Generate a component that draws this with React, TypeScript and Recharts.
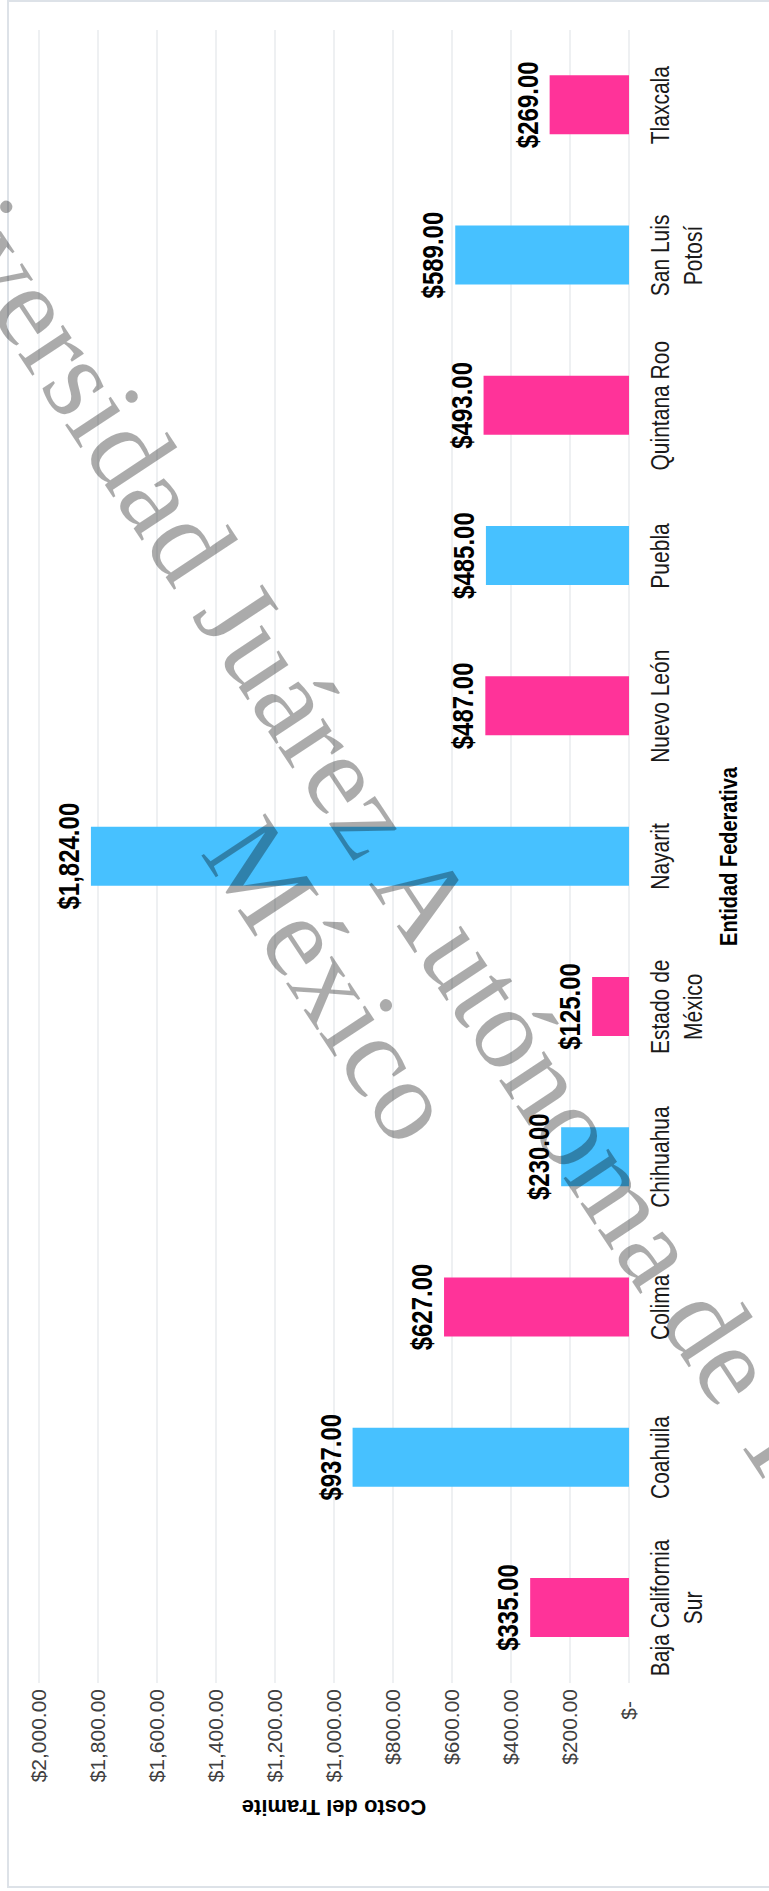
import React from "react";
import { BarChart, Bar, XAxis, YAxis, CartesianGrid, Cell, LabelList, Label } from "recharts";

const entidades = [
  "Baja California\nSur",
  "Coahuila",
  "Colima",
  "Chihuahua",
  "Estado de\nMéxico",
  "Nayarit",
  "Nuevo León",
  "Puebla",
  "Quintana Roo",
  "San Luis\nPotosí",
  "Tlaxcala",
];
const costos = [335, 937, 627, 230, 125, 1824, 487, 485, 493, 589, 269];
const costoTicks = [0, 200, 400, 600, 800, 1000, 1200, 1400, 1600, 1800, 2000];
const barColors = ["#FF3399", "#47C1FF"]; // rosa, azul

const data = entidades.map((name, i) => ({ name, costo: costos[i] }));

// the picture is the excel chart turned a quarter to the left and stretched a bit sideways
const PAGE_W = 769;
const PAGE_H = 1891;
const K = 1.2;
const CHART_W = PAGE_H;
const CHART_H = PAGE_W / K;
const TOP = 39 / K;
const XAXIS_H = (PAGE_W - 629) / K;
const YAXIS_W = 208;
const RIGHT = 30;

const SANS = "'Liberation Sans', Arial, sans-serif";
const SERIF = "'Liberation Serif', 'Times New Roman', serif";

const money = (v: number) =>
  v === 0
    ? "$-"
    : "$" + v.toLocaleString("en-US", { minimumFractionDigits: 2, maximumFractionDigits: 2 });

const YTick = (props: any) => {
  const { x, y, payload } = props;
  return (
    <g transform={`translate(${x},${y}) scale(1,${1 / K})`}>
      <text
        textAnchor="end"
        dy="0.35em"
        dx={payload.value === 0 ? -12 : 0}
        fontFamily={SANS}
        fontSize={21}
        fill="#404040"
      >
        {money(payload.value)}
      </text>
    </g>
  );
};

const CatTick = (props: any) => {
  const { x, y, payload } = props;
  const lines = String(payload.value).split("\n");
  const base = y + 18;
  return (
    <text textAnchor="middle" fontFamily={SANS} fontSize={21} fill="#1a1a1a">
      {lines.map((l, i) => (
        <tspan key={i} x={x} y={base + i * 27.5} dy="0.35em">
          {l}
        </tspan>
      ))}
    </text>
  );
};

const plotBottom = CHART_H - XAXIS_H;
const plotMidY = (TOP + plotBottom) / 2;
const plotMidX = YAXIS_W + (CHART_W - YAXIS_W - RIGHT) / 2;

export default function App() {
  return (
    <div
      style={{
        position: "absolute",
        left: 0,
        top: 0,
        width: PAGE_W,
        height: PAGE_H,
        overflow: "hidden",
        background: "#fff",
      }}
    >
      <div
        style={{
          position: "absolute",
          left: 7,
          top: 0,
          width: 800,
          height: PAGE_H - 3,
          border: "2px solid #dde2e8",
          boxSizing: "border-box",
        }}
      />
      <div
        style={{
          position: "absolute",
          left: 0,
          top: 0,
          width: CHART_W,
          height: CHART_H,
          transformOrigin: "0 0",
          transform: `translate(0px, ${PAGE_H}px) rotate(-90deg) scaleY(${K})`,
        }}
      >
        <BarChart
          width={CHART_W}
          height={CHART_H}
          data={data}
          margin={{ top: TOP, right: RIGHT, bottom: 0, left: 0 }}
          barSize={59}
        >
          <CartesianGrid vertical={false} stroke="#e3e6ea" />
          <XAxis
            dataKey="name"
            interval={0}
            tickLine={false}
            axisLine={false}
            height={XAXIS_H}
            tick={<CatTick />}
          >
            <Label
              content={() => (
                <text
                  x={plotMidX}
                  y={729 / K}
                  textAnchor="middle"
                  dy="0.35em"
                  fontFamily={SANS}
                  fontSize={20}
                  fontWeight="bold"
                  fill="#000"
                >
                  Entidad Federativa
                </text>
              )}
            />
          </XAxis>
          <YAxis
            type="number"
            domain={[0, 2000]}
            ticks={costoTicks}
            interval={0}
            width={YAXIS_W}
            tickLine={false}
            axisLine={false}
            tickMargin={0}
            tick={<YTick />}
          >
            <Label
              content={() => (
                <g transform={`translate(83,${plotMidY}) scale(1,${1 / K}) rotate(-90)`}>
                  <text
                    textAnchor="middle"
                    dy="0.35em"
                    fontFamily={SANS}
                    fontSize={22}
                    fontWeight="bold"
                    fill="#000"
                  >
                    Costo del Tramite
                  </text>
                </g>
              )}
            />
          </YAxis>
          <Bar dataKey="costo" isAnimationActive={false}>
            {data.map((d, i) => (
              <Cell key={d.name} fill={barColors[i % 2]} />
            ))}
            <LabelList
              dataKey="costo"
              content={(p: any) => (
                <text
                  x={Number(p.x) + Number(p.width) / 2}
                  y={Number(p.y) - 10}
                  textAnchor="middle"
                  fontFamily={SANS}
                  fontSize={24}
                  fontWeight="bold"
                  fill="#000"
                >
                  {money(Number(p.value))}
                </text>
              )}
            />
          </Bar>
        </BarChart>
      </div>
      <svg
        width={PAGE_W}
        height={PAGE_H}
        style={{ position: "absolute", left: 0, top: 0, pointerEvents: "none" }}
      >
        <g transform="translate(384,945) rotate(56.5)">
          <text
            y={-62}
            textAnchor="middle"
            dy="0.35em"
            fontFamily={SERIF}
            fontSize={117}
            fill="#000"
            fillOpacity={0.33}
          >
            Universidad Juárez Autónoma de Tabasco
          </text>
          <text
            y={62}
            textAnchor="middle"
            dy="0.35em"
            fontFamily={SERIF}
            fontSize={117}
            fill="#000"
            fillOpacity={0.33}
          >
            México
          </text>
        </g>
      </svg>
    </div>
  );
}
